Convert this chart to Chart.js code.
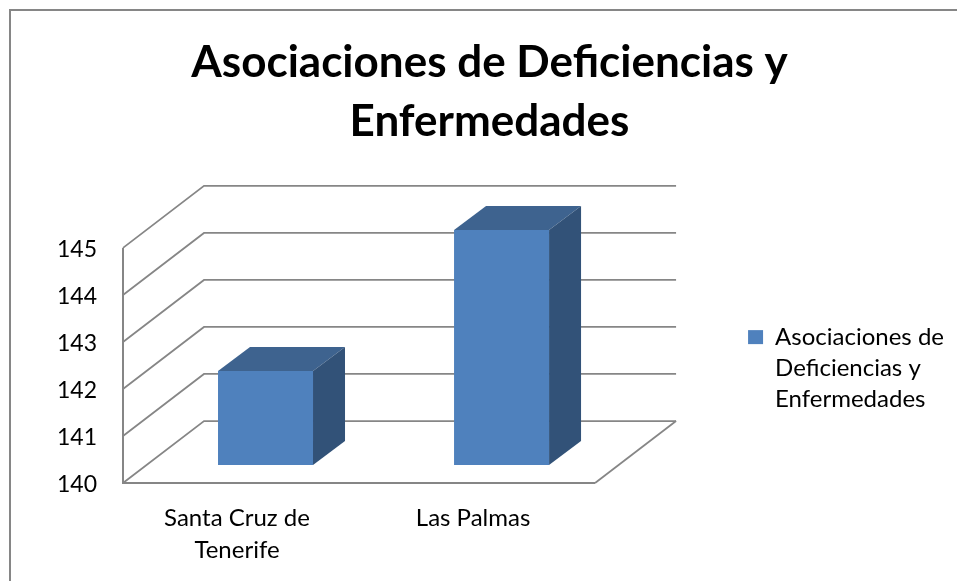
<!DOCTYPE html>
<html lang="es">
<head>
  <meta charset="UTF-8">
  <title>Asociaciones de Deficiencias y Enfermedades</title>
  <script src="https://cdn.jsdelivr.net/npm/chart.js"></script>
  <style>
    html, body { margin: 0; padding: 0; background: #fff; overflow: hidden; }
    canvas { display: block; }
  </style>
</head>
<body>

<canvas id="chart" width="957" height="581"></canvas>

<script>
  const titleLines = ['Asociaciones de Deficiencias y', 'Enfermedades'];
  const categories = [['Santa Cruz de', 'Tenerife'], 'Las Palmas'];
  const seriesName = ['Asociaciones de', 'Deficiencias y', 'Enfermedades'];
  const seriesValues = [142, 145];
  const axisMin = 140;
  const axisMax = 145;
  const axisStep = 1;

  const lineColor = '#868686';
  const wall = { dx: 81, dy: -62 };      // how far the back wall sits behind the front plane
  const barShift = { dx: 24.5, dy: -18 }; // bars stand a bit inside the floor
  const barDepth = { dx: 32, dy: -24 };

  function poly(ctx, pts, fill) {
    ctx.beginPath();
    pts.forEach((p, i) => i ? ctx.lineTo(p[0], p[1]) : ctx.moveTo(p[0], p[1]));
    ctx.closePath();
    ctx.fillStyle = fill;
    ctx.fill();
  }

  const fake3d = {
    id: 'fake3d',
    beforeDraw(chart) {
      // outer frame, only top and left fall inside the picture
      const ctx = chart.ctx;
      ctx.save();
      ctx.strokeStyle = lineColor;
      ctx.lineWidth = 2;
      ctx.beginPath();
      ctx.moveTo(10, 581);
      ctx.lineTo(10, 10);
      ctx.lineTo(957, 10);
      ctx.stroke();
      ctx.restore();
    },
    beforeDatasetsDraw(chart) {
      const ctx = chart.ctx;
      const { left, right, bottom } = chart.chartArea;
      const y = chart.scales.y;

      ctx.save();
      ctx.strokeStyle = lineColor;
      ctx.lineWidth = 1.75;
      y.ticks.forEach(t => {
        const py = y.getPixelForValue(t.value);
        ctx.beginPath();
        ctx.moveTo(left, py);
        ctx.lineTo(left + wall.dx, py + wall.dy);
        ctx.lineTo(right + wall.dx, py + wall.dy);
        ctx.stroke();
      });
      ctx.lineWidth = 2;
      ctx.beginPath();
      ctx.moveTo(left, y.getPixelForValue(axisMax));
      ctx.lineTo(left, bottom);
      ctx.lineTo(right, bottom);
      ctx.stroke();
      ctx.lineWidth = 1.75;
      ctx.beginPath();
      ctx.moveTo(right, bottom);
      ctx.lineTo(right + wall.dx, bottom + wall.dy);
      ctx.stroke();

      // the front faces come from chart.js, shifted; top and side faces are added here
      ctx.translate(barShift.dx, barShift.dy);
      chart.getDatasetMeta(0).data.forEach(bar => {
        const l = bar.x - bar.width / 2;
        const r = bar.x + bar.width / 2;
        poly(ctx, [[l, bar.y], [l + barDepth.dx, bar.y + barDepth.dy],
                   [r + barDepth.dx, bar.y + barDepth.dy], [r, bar.y]], '#3E638F');
        poly(ctx, [[r, bar.y], [r + barDepth.dx, bar.y + barDepth.dy],
                   [r + barDepth.dx, bar.base + barDepth.dy], [r, bar.base]], '#325278');
      });
    },
    afterDatasetsDraw(chart) {
      chart.ctx.restore();
    }
  };

  new Chart(document.getElementById('chart'), {
    type: 'bar',
    data: {
      labels: categories,
      datasets: [{
        label: seriesName,
        data: seriesValues,
        base: axisMin,
        backgroundColor: '#4F81BD',
        borderWidth: 0,
        barPercentage: 0.4025,
        categoryPercentage: 1,
        clip: false
      }]
    },
    options: {
      responsive: false,
      animation: false,
      layout: { padding: { left: 25, right: 3, top: 33, bottom: 10 } },
      scales: {
        x: {
          grid: { display: false },
          border: { display: false },
          afterFit: s => { s.height = 88; },
          ticks: {
            color: '#000',
            font: { family: 'Lato', size: 24, lineHeight: 1.33 },
            padding: 11,
            labelOffset: -4,
            maxRotation: 0,
            autoSkip: false
          }
        },
        y: {
          min: axisMin,
          max: axisMax,
          grid: { display: false },
          border: { display: false },
          afterFit: s => { s.width = 98; },
          ticks: {
            stepSize: axisStep,
            color: '#000',
            font: { family: 'Lato', size: 23 },
            padding: 18,
            labelOffset: 2
          }
        }
      },
      plugins: {
        title: {
          display: true,
          text: titleLines,
          color: '#000',
          font: { family: 'Lato', size: 44, weight: 'bold', lineHeight: 1.34 },
          padding: { top: 0, bottom: 97 }
        },
        legend: {
          position: 'right',
          align: 'end',
          maxWidth: 400,
          labels: {
            boxWidth: 15,
            boxHeight: 14,
            color: '#000',
            padding: 153,
            font: { family: 'Lato', size: 24, lineHeight: 1.29 }
          }
        },
        tooltip: { enabled: false }
      }
    },
    plugins: [fake3d]
  });
</script>

</body>
</html>
